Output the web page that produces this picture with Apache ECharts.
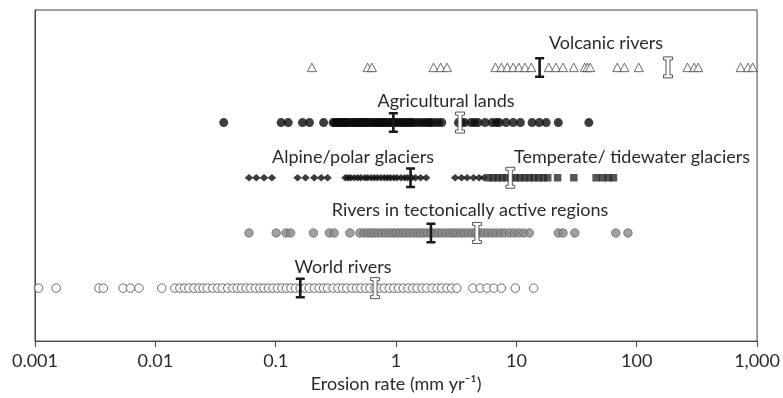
<!DOCTYPE html>
<html>
<head>
<meta charset="utf-8">
<script src="https://cdn.jsdelivr.net/npm/echarts@6/dist/echarts.min.js"></script>
<style>
  html, body { margin: 0; padding: 0; background: #fff; }
  #chart { width: 783px; height: 398px; }
</style>
</head>
<body>
<div id="chart"></div>
<script>
// row index: 1 = bottom (world rivers) ... 5 = top (volcanic rivers)
var tickLabels = ['0.001', '0.01', '0.1', '1', '10', '100', '1,000'];
var rowNames = ['World rivers', 'Rivers in tectonically active regions', 'Alpine/polar glaciers', 'Agricultural lands', 'Volcanic rivers'];

var volcanic = [0.2, 0.58, 0.63, 2.05, 2.35, 2.65, 6.7, 7.5, 8.4, 9.4, 10.5, 11.8, 13.3,
  18.6, 21.3, 24.4, 30, 37, 39, 41, 69, 79, 104, 264, 300, 324, 730, 840, 920];

var agricultural = [0.037, 0.111, 0.127, 0.167, 0.191, 0.25,
  0.30, 0.31, 0.32, 0.33, 0.34, 0.35, 0.36, 0.37, 0.38, 0.39, 0.40, 0.42, 0.44, 0.45, 0.47,
  0.48, 0.5, 0.52, 0.53, 0.55, 0.56, 0.58, 0.6, 0.63, 0.66, 0.68, 0.7, 0.72, 0.74, 0.78,
  0.8, 0.82, 0.86, 0.9, 0.93, 0.95, 1.0, 1.05, 1.1, 1.15, 1.2, 1.25, 1.3, 1.35, 1.4, 1.5,
  1.6, 1.7, 1.8, 1.9, 1.95, 2.1, 2.25, 2.4,
  3.3, 3.5, 3.7, 4.2, 4.5, 4.8, 5.5, 6.3, 6.8, 7.2, 8.2, 9.4, 10.8, 13.5, 15.5, 17.7, 22.3, 40];

var alpine = [0.060, 0.069, 0.080, 0.093, 0.152, 0.177, 0.209, 0.239, 0.27,
  0.38, 0.40, 0.42, 0.45, 0.48, 0.51, 0.55, 0.58, 0.62, 0.66, 0.7, 0.75, 0.8, 0.85, 0.9,
  0.96, 1.02, 1.1, 1.18, 1.25, 1.35, 1.45, 1.6, 1.78,
  3.1, 3.5, 3.9, 4.4, 4.9, 5.4];

var temperate = [5.9, 6.4, 7.0, 7.6, 8.3, 9.0, 9.8, 10.7, 11.7, 12.8, 14, 15.3, 16.7, 18.2,
  22, 30, 46, 52, 58, 64];

var tectonic = [0.06, 0.101, 0.122, 0.133, 0.206, 0.279, 0.306, 0.413,
  0.50, 0.54, 0.58, 0.62, 0.66, 0.71, 0.76, 0.82, 0.88, 0.94, 1.0, 1.07, 1.14, 1.22, 1.3,
  1.4, 1.5, 1.6, 1.7, 1.82, 1.95, 2.1, 2.25, 2.4, 2.6, 2.8, 3.0, 3.2, 3.45, 3.7, 4.0, 4.3,
  4.6, 5.0, 5.4, 5.8, 6.3, 6.8, 7.4, 8.0, 8.8, 9.6, 10.5, 11.5, 12.8,
  22.3, 24.4, 30.6, 67, 84.5];

var world = [0.00107, 0.0015, 0.0034, 0.0037, 0.0054, 0.0062, 0.0073, 0.0113,
  0.0145, 0.016, 0.0175, 0.019, 0.021, 0.023, 0.025, 0.027, 0.03, 0.033, 0.036, 0.04,
  0.044, 0.048, 0.052, 0.057, 0.062, 0.068, 0.074, 0.08, 0.087, 0.095, 0.104, 0.113,
  0.123, 0.134, 0.146, 0.16, 0.175, 0.19, 0.21, 0.23, 0.25, 0.27, 0.3, 0.33, 0.36, 0.39,
  0.43, 0.47, 0.51, 0.56, 0.61, 0.67, 0.73, 0.8, 0.88, 0.96, 1.05, 1.15, 1.26, 1.38, 1.5,
  1.65, 1.8, 2.0, 2.2, 2.4, 2.65, 2.9, 3.2,
  4.35, 5.0, 5.7, 6.5, 7.5, 9.8, 13.9];

// black bars and white bars, one per row (bottom to top)
var blackBars = [0.16, 1.95, 1.32, 0.95, 15.6];
var whiteBars = [0.67, 4.7, 8.9, 3.4, 182];

function rowData(vals, row) {
  return vals.map(function (v) { return [v, row]; });
}

function barRender(fill, stroke, stem, cap) {
  return function (params, api) {
    var p = api.coord([api.value(0), api.value(1)]);
    var cx = p[0], cy = p[1], h = 10.5, w = 4.5;
    var pts = [
      [cx - w, cy - h], [cx + w, cy - h], [cx + w, cy - h + cap], [cx + stem, cy - h + cap],
      [cx + stem, cy + h - cap], [cx + w, cy + h - cap], [cx + w, cy + h], [cx - w, cy + h],
      [cx - w, cy + h - cap], [cx - stem, cy + h - cap], [cx - stem, cy - h + cap], [cx - w, cy - h + cap]
    ];
    return {
      type: 'polygon',
      shape: { points: pts },
      style: { fill: fill, stroke: stroke, lineWidth: stroke ? 1 : 0 }
    };
  };
}

var labelFont = { fontFamily: 'Lato', fontSize: 18, fill: '#2a2a2a' };
function lbl(text, x, y) {
  return {
    type: 'text', x: x, y: y,
    style: Object.assign({ text: text, textAlign: 'center', textVerticalAlign: 'middle' }, labelFont),
    z: 20
  };
}

var chart = echarts.init(document.getElementById('chart'), null, { renderer: 'canvas' });
chart.setOption({
  animation: false,
  textStyle: { fontFamily: 'Lato' },
  grid: {
    left: 35, right: 25, top: 10, bottom: 52,
    show: true, borderColor: '#444', borderWidth: 1
  },
  xAxis: {
    type: 'log', logBase: 10, min: 0.001, max: 1000,
    name: 'Erosion rate (mm yr\u207B\u00B9)',
    nameLocation: 'middle', nameGap: 33,
    nameTextStyle: { fontSize: 18, color: '#2a2a2a', fontFamily: 'Lato' },
    axisLine: { lineStyle: { color: '#444', width: 1 } },
    axisTick: { show: true, inside: false, length: 6, lineStyle: { color: '#444' } },
    axisLabel: {
      fontSize: 18, color: '#2a2a2a', margin: 11, fontFamily: 'Lato',
      formatter: function (v) {
        var i = Math.round(Math.log10(v)) + 3;
        return tickLabels[i] || '';
      }
    },
    splitLine: { show: false },
    minorTick: { show: false }
  },
  yAxis: {
    type: 'value', min: 0.04, max: 6.04,
    axisLine: { show: true, lineStyle: { color: '#444' } },
    axisTick: { show: false }, axisLabel: { show: false }, splitLine: { show: false }
  },
  series: [
    { type: 'scatter', name: rowNames[4], data: rowData(volcanic, 5), symbol: 'triangle', symbolSize: [9, 8.5],
      itemStyle: { color: '#fff', borderColor: '#333', borderWidth: 0.9 } },
    { type: 'scatter', name: rowNames[3], data: rowData(agricultural, 4), symbol: 'circle', symbolSize: 9,
      itemStyle: { color: '#0d0d0d' } },
    { type: 'scatter', name: rowNames[2], data: rowData(alpine, 3), symbol: 'diamond', symbolSize: [8.5, 7.5],
      itemStyle: { color: '#0d0d0d' } },
    { type: 'scatter', name: 'Temperate/ tidewater glaciers', data: rowData(temperate, 3), symbol: 'rect', symbolSize: [7.5, 7.5],
      itemStyle: { color: '#2b2b2b' } },
    { type: 'scatter', name: rowNames[1], data: rowData(tectonic, 2), symbol: 'circle', symbolSize: 8.5,
      itemStyle: { color: '#8a8a8a', borderColor: '#555', borderWidth: 0.8 } },
    { type: 'scatter', name: rowNames[0], data: rowData(world, 1), symbol: 'circle', symbolSize: 8.5,
      itemStyle: { color: '#fff', borderColor: '#333', borderWidth: 0.9 } },
    { type: 'custom', name: 'black', z: 10, data: blackBars.map(function (v, i) { return [v, i + 1]; }),
      renderItem: barRender('#1a1a1a', null, 1.3, 2.5) },
    { type: 'custom', name: 'white', z: 10, data: whiteBars.map(function (v, i) { return [v, i + 1]; }),
      renderItem: barRender('#fff', '#555', 2, 3) }
  ],
  graphic: [
    lbl(rowNames[4], 606, 43),
    lbl(rowNames[3], 446, 101),
    lbl(rowNames[2], 353, 157),
    lbl('Temperate/ tidewater glaciers', 632, 157),
    lbl(rowNames[1], 470, 210),
    lbl(rowNames[0], 343, 267)
  ]
});
</script>
</body>
</html>
